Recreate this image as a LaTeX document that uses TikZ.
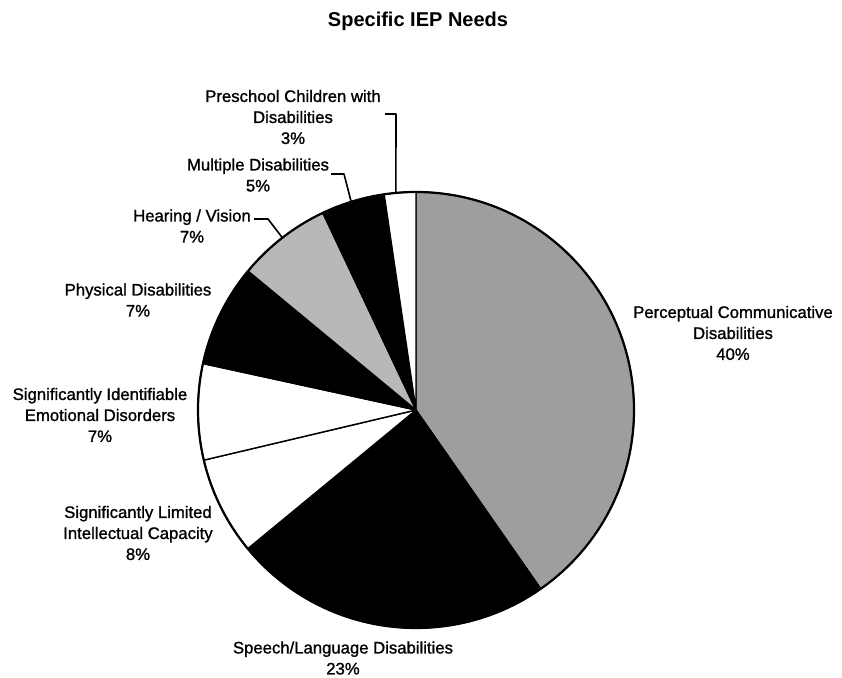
\documentclass[tikz,border=0pt]{standalone}
\usepackage{fontspec}
\setmainfont{Liberation Sans}
\newfontfamily\lblfont[FakeBold=1.2]{Liberation Sans}
\begin{document}
\begin{tikzpicture}[x=1pt,y=1pt,
  lbl/.style={align=center,inner sep=2pt,font=\lblfont\fontsize{16.7}{21}\selectfont},
  ttl/.style={font=\fontsize{20}{24}\selectfont\bfseries,anchor=base},
  slice/.style={draw=black,line width=1.4pt,line join=round},
  leader/.style={draw=black,line width=1.6pt,line join=round}]
\useasboundingbox (0,0) rectangle (842,677);
\def\R{218pt}
\coordinate (O) at (416,267);
% slices
\path[slice,fill=black!38] (O) -- ++(90:\R) arc[start angle=90,end angle=-55.1,radius=\R] -- cycle;
\path[slice,fill=black] (O) -- ++(-55.1:\R) arc[start angle=-55.1,end angle=-140.5,radius=\R] -- cycle;
\path[slice,fill=white] (O) -- ++(-140.5:\R) arc[start angle=-140.5,end angle=-166.7,radius=\R] -- cycle;
\path[slice,fill=white] (O) -- ++(-166.7:\R) arc[start angle=-166.7,end angle=-192.3,radius=\R] -- cycle;
\path[slice,fill=black] (O) -- ++(167.7:\R) arc[start angle=167.7,end angle=140.4,radius=\R] -- cycle;
\path[slice,fill=black!28] (O) -- ++(140.4:\R) arc[start angle=140.4,end angle=115.3,radius=\R] -- cycle;
\path[slice,fill=black] (O) -- ++(115.3:\R) arc[start angle=115.3,end angle=98.4,radius=\R] -- cycle;
\path[slice,fill=white] (O) -- ++(98.4:\R) arc[start angle=98.4,end angle=90,radius=\R] -- cycle;
\draw[line width=2.2pt] (O) circle[radius=\R];
% title
\node[ttl] (title) at (418,650) {Specific IEP Needs};
% labels
\node[lbl] (perc) at (733,344) {Perceptual Communicative\\Disabilities\\40\%};
\node[lbl] (speech) at (343,19) {Speech/Language Disabilities\\23\%};
\node[lbl] (limit) at (138,144) {Significantly Limited\\Intellectual Capacity\\8\%};
\node[lbl] (emot) at (100,262) {Significantly Identifiable\\Emotional Disorders\\7\%};
\node[lbl] (phys) at (138,377) {Physical Disabilities\\7\%};
\node[lbl] (hear) at (192,451) {Hearing / Vision\\7\%};
\node[lbl] (mult) at (258,502) {Multiple Disabilities\\5\%};
\node[lbl] (pre) at (293,560) {Preschool Children with\\Disabilities\\3\%};
% leader lines
\coordinate (preA) at (385,563);
\coordinate (preB) at (396,563);
\coordinate (preE) at ([shift={(95.3:\R)}]O);
\coordinate (multA) at (331,503);
\coordinate (multB) at (344,503);
\coordinate (multE) at ([shift={(107.3:\R)}]O);
\coordinate (hearA) at (254,458);
\coordinate (hearB) at (268,458);
\coordinate (hearE) at ([shift={(127.8:\R)}]O);
\draw[leader] (preA) -- (preB) -- (preE);
\draw[leader] (multA) -- (multB) -- (multE);
\draw[leader] (hearA) -- (hearB) -- (hearE);
\end{tikzpicture}
\end{document}
